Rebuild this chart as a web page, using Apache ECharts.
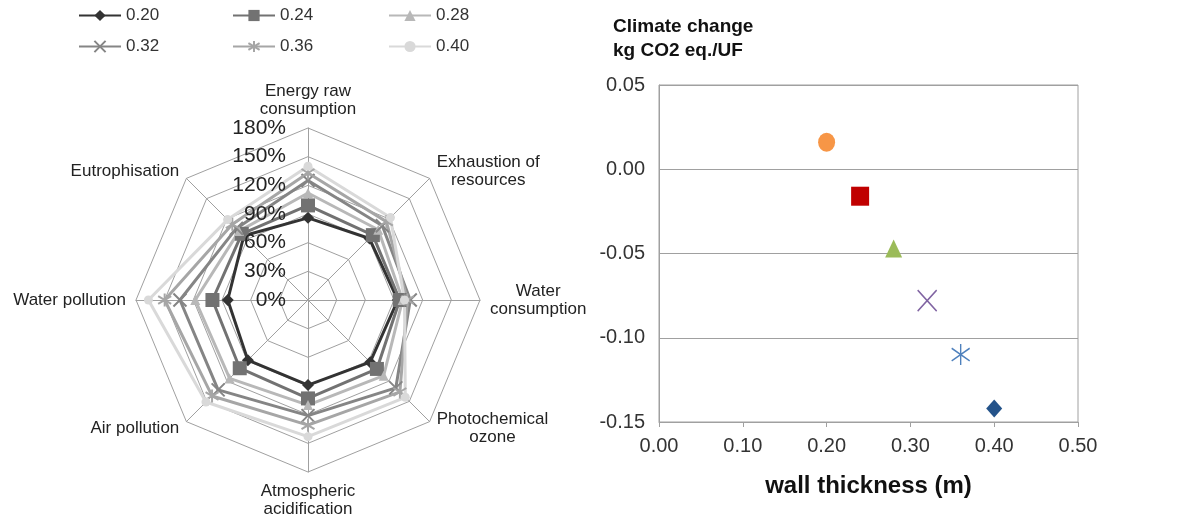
<!DOCTYPE html>
<html>
<head>
<meta charset="utf-8">
<script src="https://cdn.jsdelivr.net/npm/echarts@6/dist/echarts.min.js"></script>
<style>
html,body{margin:0;padding:0;background:#fff;}
#chart{width:1193px;height:524px;}
</style>
</head>
<body>
<div id="chart"></div>
<script>
// ---------- DATA ----------
// Radar indicators (listed counter-clockwise from the top, as ECharts draws them)
const indicators = ['Energy raw\nconsumption', 'Eutrophisation', 'Water pollution', 'Air pollution',
  'Atmospheric\nacidification', 'Photochemical\nozone', 'Water\nconsumption', 'Exhaustion of\nresources'];
const seriesNames = ['0.20', '0.24', '0.28', '0.32', '0.36', '0.40'];
const v020 = [86, 95, 84, 89, 89, 92, 94, 91];
const v024 = [99, 98, 100, 101, 103, 102, 96, 96];
const v028 = [112, 102, 118, 116, 110, 112, 99, 104];
const v032 = [125, 106, 134, 133, 121, 130, 107, 110];
const v036 = [133, 112, 150, 142, 131, 136, 104, 116];
const v040 = [140, 119, 167, 151, 143, 144, 101, 122];
const radarValues = [v020, v024, v028, v032, v036, v040];
const radarTicks = [0, 30, 60, 90, 120, 150, 180];

// Scatter: climate change vs wall thickness
const thickness = [0.20, 0.24, 0.28, 0.32, 0.36, 0.40];
const climate = [0.016, -0.016, -0.047, -0.078, -0.110, -0.142];
const xTicks = [0.00, 0.10, 0.20, 0.30, 0.40, 0.50];
const yTicks = [-0.15, -0.10, -0.05, 0.00, 0.05];

// ---------- STYLES ----------
const XPATH = 'path://M0,0L10,10M10,0L0,10';
const STAR = 'path://M5,0L5,10M0,2L10,8M10,2L0,8';
const radarColors = ['#333333', '#727272', '#b8b8b8', '#858585', '#a6a6a6', '#d9d9d9'];
const radarSymbols = ['diamond', 'rect', 'triangle', XPATH, STAR, 'circle'];
const radarSymSize = [12, 14, 10, 13, 13, 9];
const radarStroked = [false, false, false, true, true, false];

const scColors = ['#F79646', '#C00000', '#9BBB59', '#8064A2', '#4F81BD', '#24538A'];
const scSymbols = ['circle', 'rect', 'triangle', XPATH, STAR, 'diamond'];
const scSizes = [[17, 19], [18, 19], [17, 18], [19, 21], [18, 21], [16, 18]];
const scStroked = [false, false, false, true, true, false];

function itemStyleFor(color, stroked, bw) {
  return stroked ? {color: 'rgba(0,0,0,0)', borderColor: color, borderWidth: bw, opacity: 1}
                 : {color: color, borderColor: color, borderWidth: 0, opacity: 1};
}

const FONT = '"Liberation Sans", Arial, sans-serif';

const chart = echarts.init(document.getElementById('chart'));

const radarData = seriesNames.map((n, i) => ({
  name: n,
  value: radarValues[i],
  symbol: radarSymbols[i],
  symbolSize: radarSymSize[i],
  lineStyle: {color: radarColors[i], width: 3},
  itemStyle: itemStyleFor(radarColors[i], radarStroked[i], 2)
}));

const legendSeries = seriesNames.map((n, i) => ({
  type: 'line', name: n, xAxisIndex: 0, yAxisIndex: 0, data: [],
  symbol: radarSymbols[i], symbolSize: radarSymSize[i],
  lineStyle: {color: radarColors[i], width: 3},
  itemStyle: itemStyleFor(radarColors[i], radarStroked[i], 2),
  silent: true
}));

const scatterData = thickness.map((t, i) => ({
  value: [t, climate[i]],
  symbol: scSymbols[i],
  symbolSize: scSizes[i],
  itemStyle: itemStyleFor(scColors[i], scStroked[i], 1.5)
}));

const legendCommon = {
  orient: 'vertical', top: 2, itemWidth: 42, itemHeight: 14, itemGap: 14,
  textStyle: {fontSize: 17, color: '#333', fontFamily: FONT},
  selectedMode: false
};

const option = {
  backgroundColor: '#ffffff',
  animation: false,
  textStyle: {fontFamily: FONT},
  title: {
    text: 'Climate change\nkg CO2 eq./UF',
    left: 608, top: 10,
    textStyle: {fontSize: 19, fontWeight: 'bold', lineHeight: 24, color: '#111', fontFamily: FONT}
  },
  legend: [
    Object.assign({}, legendCommon, {left: 73, data: [seriesNames[0], seriesNames[3]]}),
    Object.assign({}, legendCommon, {left: 227, data: [seriesNames[1], seriesNames[4]]}),
    Object.assign({}, legendCommon, {left: 383, data: [seriesNames[2], seriesNames[5]]})
  ],
  radar: {
    center: [308, 300],
    radius: 172,
    startAngle: 90,
    splitNumber: 6,
    shape: 'polygon',
    nameGap: 10,
    indicator: indicators.map(n => ({name: n, min: radarTicks[0], max: radarTicks[radarTicks.length - 1]})),
    axisName: {
      color: '#222', fontSize: 17, lineHeight: 18, fontFamily: FONT,
      formatter: v => v.split('\n').map(l => '{c|' + l + '}').join('\n'),
      rich: {c: {align: 'center', fontSize: 17, lineHeight: 18, color: '#222', fontFamily: FONT}}
    },
    splitLine: {lineStyle: {color: '#a0a0a0', width: 1}},
    splitArea: {show: false},
    axisLine: {lineStyle: {color: '#a0a0a0', width: 1}},
    axisTick: {show: false},
    axisLabel: {show: false}
  },
  grid: [
    {left: 308, top: 128, width: 1, height: 172, show: false, containLabel: false, outerBoundsMode: 'none'},
    {left: 659, right: 115, top: 85, bottom: 102, show: true, borderColor: '#a0a0a0', borderWidth: 1,
     containLabel: false, outerBoundsMode: 'none'}
  ],
  xAxis: [
    {gridIndex: 0, type: 'value', min: 0, max: 1, show: false},
    {gridIndex: 1, type: 'value', min: xTicks[0], max: xTicks[xTicks.length - 1], interval: 0.1,
     axisLine: {show: true, onZero: false, lineStyle: {color: '#a0a0a0', width: 1}},
     axisTick: {show: true, length: 5, lineStyle: {color: '#a0a0a0'}},
     splitLine: {show: false},
     axisLabel: {fontSize: 20, color: '#333', margin: 14, formatter: v => v.toFixed(2), fontFamily: FONT},
     name: 'wall thickness (m)', nameLocation: 'middle', nameGap: 52,
     nameTextStyle: {fontSize: 24, fontWeight: 'bold', color: '#111', fontFamily: FONT}}
  ],
  yAxis: [
    {gridIndex: 0, type: 'value', min: radarTicks[0], max: radarTicks[radarTicks.length - 1], interval: 30,
     axisLine: {show: false}, axisTick: {show: false}, splitLine: {show: false},
     axisLabel: {fontSize: 21, color: '#222', margin: 22, formatter: '{value}%', fontFamily: FONT}, z: 10},
    {gridIndex: 1, type: 'value', min: yTicks[0], max: yTicks[yTicks.length - 1], interval: 0.05,
     axisLine: {show: true, onZero: false, lineStyle: {color: '#a0a0a0', width: 1}},
     axisTick: {show: false},
     splitLine: {show: true, lineStyle: {color: '#a0a0a0', width: 1}},
     axisLabel: {fontSize: 20, color: '#333', margin: 14, formatter: v => v.toFixed(2), fontFamily: FONT}}
  ],
  series: [
    {type: 'radar', radarIndex: 0, data: radarData, z: 2}
  ].concat(legendSeries).concat([
    {type: 'scatter', xAxisIndex: 1, yAxisIndex: 1, data: scatterData, z: 3, itemStyle: {opacity: 1}}
  ])
};

chart.setOption(option);
</script>
</body>
</html>
